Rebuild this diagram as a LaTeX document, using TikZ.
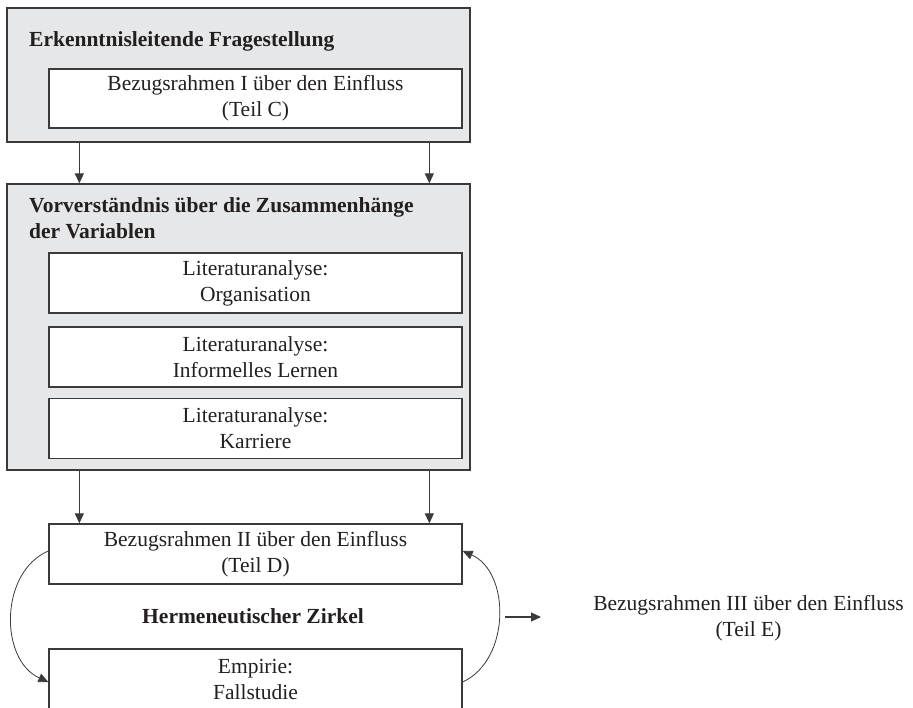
\documentclass[tikz,border=0pt]{standalone}
\usepackage{fontspec}
\setmainfont{Liberation Serif}
\usetikzlibrary{arrows.meta}
\definecolor{gfill}{HTML}{E6E7E8}
\definecolor{lcol}{HTML}{3A3A3A}
\definecolor{tcol}{HTML}{231F20}
\begin{document}
\begin{tikzpicture}[x=1pt,y=-1pt,
  every node/.style={text=tcol, font=\fontsize{21.5}{26}\selectfont},
  graybox/.style={draw=lcol, fill=gfill, line width=1.3pt, inner sep=0pt, minimum width=463pt},
  whitebox/.style={draw=lcol, fill=white, line width=1.3pt, align=center, inner sep=0pt, minimum width=413pt, minimum height=60pt},
  arr/.style={draw=lcol, line width=1.1pt, -{Triangle[width=9pt,length=10pt]}},
  arcarrow/.style={draw=lcol, line width=0.8pt, -{Triangle[width=9pt,length=10pt]}},
  titletext/.style={font=\bfseries\fontsize{21.5}{26}\selectfont, align=left, inner sep=0pt}]
\clip (0,0) rectangle (913,707);
\fill[white] (0,0) rectangle (913,707);
% top gray box
\node[graybox, minimum height=134pt] (g1) at (238.5,75) {};
\node[titletext, anchor=base west] (t1) at (29,46) {Erkenntnisleitende Fragestellung};
\node[whitebox, minimum height=59pt] (c1) at (255.5,98.5) {Bezugsrahmen I über den Einfluss\\(Teil C)};
% second gray box
\node[graybox, minimum height=286pt] (g2) at (238.5,327) {};
\node[titletext, anchor=north west] (t2) at (29,197) {Vorverständnis über die Zusammenhänge\\der Variablen};
\node[whitebox] (l1) at (255.5,283) {Literaturanalyse:\\Organisation};
\node[whitebox] (l2) at (255.5,357) {Literaturanalyse:\\Informelles Lernen};
\node[whitebox] (l3) at (255.5,428.5) {Literaturanalyse:\\Karriere};
% arrows between big boxes
\draw[arr] ([xshift=73pt]g1.south west) -- ([xshift=73pt]g2.north west);
\draw[arr] ([xshift=423pt]g1.south west) -- ([xshift=423pt]g2.north west);
% lower boxes
\node[whitebox] (d) at (255.5,554) {Bezugsrahmen II über den Einfluss\\(Teil D)};
\node[whitebox] (f) at (255.5,679) {Empirie:\\Fallstudie};
\draw[arr] ([xshift=73pt]g2.south west) -- ([xshift=31pt]d.north west);
\draw[arr] ([xshift=423pt]g2.south west) -- ([xshift=381pt]d.north west);
% hermeneutic circle
\node[font=\bfseries\fontsize{21.5}{26}\selectfont, anchor=base, inner sep=0pt] (hz) at (253,623) {Hermeneutischer Zirkel};
\draw[arcarrow] ([yshift=3pt]d.west) .. controls +(-49,21) and +(-49,-22) .. ([yshift=-3pt]f.west);
\draw[arcarrow] ([yshift=-3pt]f.east) .. controls +(48,-22) and +(48,21) .. ([yshift=3pt]d.east);
% outcome
\coordinate (o1) at (505,617);
\coordinate (o2) at (541,617);
\draw[arr] (o1) -- (o2);
\node[align=center, inner sep=0pt] (e) at (748.5,618) {Bezugsrahmen III über den Einfluss\\(Teil E)};
\end{tikzpicture}
\end{document}
